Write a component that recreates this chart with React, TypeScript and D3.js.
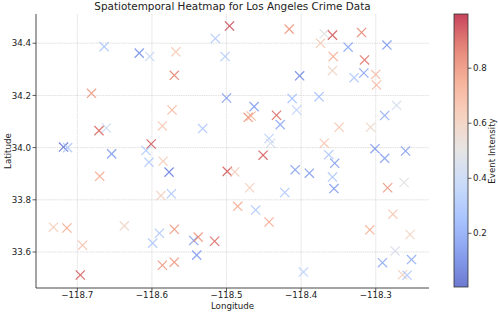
import React from "react";
import * as d3 from "d3";

const lons = [
  -118.664, -118.617, -118.603, -118.568, -118.570, -118.496, -118.515, -118.502, -118.500, -118.681,
  -118.661, -118.671, -118.586, -118.573, -118.532, -118.7185, -118.713, -118.601, -118.654, -118.608,
  -118.416, -118.369, -118.358, -118.319, -118.374, -118.337, -118.285, -118.357, -118.315, -118.358,
  -118.316, -118.329, -118.300, -118.299, -118.402, -118.412, -118.406, -118.376, -118.463, -118.471,
  -118.467, -118.433, -118.428, -118.272, -118.288, -118.349, -118.307, -118.443, -118.441, -118.369,
  -118.451, -118.363, -118.301, -118.288, -118.260, -118.355, -118.604, -118.585, -118.577, -118.670,
  -118.499, -118.489, -118.588, -118.574, -118.732, -118.714, -118.637, -118.693, -118.696, -118.590,
  -118.599, -118.570, -118.544, -118.538, -118.516, -118.540, -118.586, -118.570, -118.408, -118.389,
  -118.358, -118.356, -118.469, -118.422, -118.284, -118.262, -118.485, -118.461, -118.443, -118.277,
  -118.308, -118.254, -118.274, -118.291, -118.252, -118.397, -118.264, -118.258,
];
const lats = [
  34.387, 34.362, 34.349, 34.367, 34.277, 34.466, 34.418, 34.349, 34.190, 34.208,
  34.075, 34.065, 34.083, 34.144, 34.073, 34.002, 34.000, 34.014, 33.976, 33.989,
  34.454, 34.436, 34.431, 34.441, 34.400, 34.385, 34.393, 34.349, 34.336, 34.295,
  34.286, 34.268, 34.280, 34.240, 34.275, 34.188, 34.144, 34.195, 34.157, 34.116,
  34.121, 34.124, 34.088, 34.162, 34.123, 34.078, 34.078, 34.035, 34.017, 34.017,
  33.971, 33.973, 33.996, 33.959, 33.987, 33.940, 33.944, 33.948, 33.906, 33.890,
  33.909, 33.907, 33.816, 33.823, 33.695, 33.692, 33.700, 33.626, 33.512, 33.672,
  33.634, 33.687, 33.644, 33.657, 33.641, 33.588, 33.549, 33.561, 33.915, 33.902,
  33.887, 33.843, 33.846, 33.828, 33.846, 33.866, 33.775, 33.761, 33.715, 33.745,
  33.685, 33.667, 33.604, 33.559, 33.571, 33.523, 33.513, 33.511,
];
const intensity = [
  0.30, 0.12, 0.38, 0.65, 0.85, 0.95, 0.30, 0.32, 0.15, 0.80,
  0.40, 0.90, 0.65, 0.70, 0.30, 0.05, 0.30, 0.92, 0.15, 0.30,
  0.80, 0.50, 0.92, 0.85, 0.65, 0.20, 0.15, 0.75, 0.88, 0.58,
  0.18, 0.30, 0.70, 0.70, 0.10, 0.25, 0.35, 0.25, 0.15, 0.80,
  0.70, 0.90, 0.20, 0.45, 0.20, 0.65, 0.58, 0.35, 0.45, 0.65,
  0.92, 0.30, 0.15, 0.15, 0.15, 0.15, 0.30, 0.62, 0.08, 0.75,
  0.92, 0.60, 0.60, 0.30, 0.62, 0.75, 0.58, 0.68, 0.92, 0.30,
  0.30, 0.80, 0.15, 0.80, 0.90, 0.15, 0.80, 0.80, 0.15, 0.15,
  0.30, 0.15, 0.62, 0.30, 0.80, 0.50, 0.75, 0.30, 0.75, 0.65,
  0.72, 0.60, 0.45, 0.20, 0.20, 0.35, 0.60, 0.30,
];

const xTicks = [-118.7, -118.6, -118.5, -118.4, -118.3];
const yTicks = [33.6, 33.8, 34.0, 34.2, 34.4];
const cTicks = [0.2, 0.4, 0.6, 0.8];

const coolwarmStops = ["#3b4cc0", "#6282ea", "#8db0fe", "#b8d0f9", "#dddcdc", "#f5c4ac", "#f49a7b", "#de614d", "#b40426"];

const W = 498, H = 313;
const L = 36, R = 429, T = 14, B = 288;
const CBX0 = 454, CBX1 = 468;
const FONT = "DejaVu Sans, sans-serif";

export default function App() {
  const x = d3.scaleLinear().domain([-118.7554, -118.2286]).range([L, R]);
  const y = d3.scaleLinear().domain([33.462, 34.512]).range([B, T]);
  const vmin = 0.005, vmax = 0.997;
  const cnorm = d3.scaleLinear().domain([vmin, vmax]).range([0, 1]).clamp(true);
  const cmap = d3.piecewise(d3.interpolateRgb, coolwarmStops);
  const cy = d3.scaleLinear().domain([vmin, vmax]).range([B - 1, T]);
  const ms = 4.6;
  const gradStops = d3.range(0, 1.0001, 0.05);

  return (
    <svg width={W} height={H} style={{ position: "absolute", left: 0, top: 0 }} fontFamily={FONT}>
      <defs>
        <linearGradient id="cb" x1="0" y1="1" x2="0" y2="0">
          {gradStops.map((t) => (
            <stop key={t} offset={t} stopColor={cmap(t)} />
          ))}
        </linearGradient>
      </defs>
      <rect x={0} y={0} width={W} height={H} fill="#fff" />
      {/* grid */}
      {xTicks.map((t) => (
        <line key={"gx" + t} x1={x(t)} x2={x(t)} y1={T} y2={B} stroke="#c8c8c8" strokeWidth={0.8} strokeDasharray="1.5,0.8" opacity={0.7} />
      ))}
      {yTicks.map((t) => (
        <line key={"gy" + t} x1={L} x2={R} y1={y(t)} y2={y(t)} stroke="#c8c8c8" strokeWidth={0.8} strokeDasharray="1.5,0.8" opacity={0.7} />
      ))}
      {/* points */}
      {lons.map((lo, i) => {
        const px = x(lo), py = y(lats[i]);
        const c = cmap(cnorm(intensity[i]));
        return (
          <g key={i} stroke={c} strokeWidth={1.2} opacity={0.75}>
            <line x1={px - ms} y1={py - ms} x2={px + ms} y2={py + ms} />
            <line x1={px - ms} y1={py + ms} x2={px + ms} y2={py - ms} />
          </g>
        );
      })}
      {/* spines */}
      <line x1={L} x2={L} y1={T} y2={B} stroke="#333" strokeWidth={0.9} />
      <line x1={L} x2={R} y1={B} y2={B} stroke="#333" strokeWidth={0.9} />
      {/* x ticks */}
      {xTicks.map((t) => (
        <g key={"xt" + t}>
          <line x1={x(t)} x2={x(t)} y1={B} y2={B + 3.5} stroke="#333" strokeWidth={0.8} />
          <text x={x(t)} y={297.5} fontSize={8.7} textAnchor="middle" fill="#222">
            {d3.format(".1f")(t).replace("-", "\u2212")}
          </text>
        </g>
      ))}
      {yTicks.map((t) => (
        <g key={"yt" + t}>
          <line x1={L - 3.5} x2={L} y1={y(t)} y2={y(t)} stroke="#333" strokeWidth={0.8} />
          <text x={L - 5} y={y(t) + 3.1} fontSize={8.7} textAnchor="end" fill="#222">
            {d3.format(".1f")(t)}
          </text>
        </g>
      ))}
      <text x={(L + R) / 2} y={308.5} fontSize={8.7} textAnchor="middle" fill="#222">Longitude</text>
      <text transform={`translate(10.5, ${(T + B) / 2}) rotate(-90)`} fontSize={8.7} textAnchor="middle" fill="#222">Latitude</text>
      <text x={(L + R) / 2} y={10} fontSize={10.4} textAnchor="middle" fill="#222">Spatiotemporal Heatmap for Los Angeles Crime Data</text>
      {/* colorbar */}
      <rect x={CBX0} y={T} width={CBX1 - CBX0} height={B - 1 - T} fill="url(#cb)" opacity={0.75} />
      <rect x={CBX0} y={T} width={CBX1 - CBX0} height={B - 1 - T} fill="none" stroke="#333" strokeWidth={0.8} />
      {cTicks.map((t) => (
        <g key={"ct" + t}>
          <line x1={CBX1} x2={CBX1 + 3.5} y1={cy(t)} y2={cy(t)} stroke="#333" strokeWidth={0.8} />
          <text x={CBX1 + 5} y={cy(t) + 3.1} fontSize={8.7} fill="#222">{d3.format(".1f")(t)}</text>
        </g>
      ))}
      <text transform={`translate(495, ${(T + B) / 2}) rotate(-90)`} fontSize={8.7} textAnchor="middle" fill="#222">Event Intensity</text>
    </svg>
  );
}
